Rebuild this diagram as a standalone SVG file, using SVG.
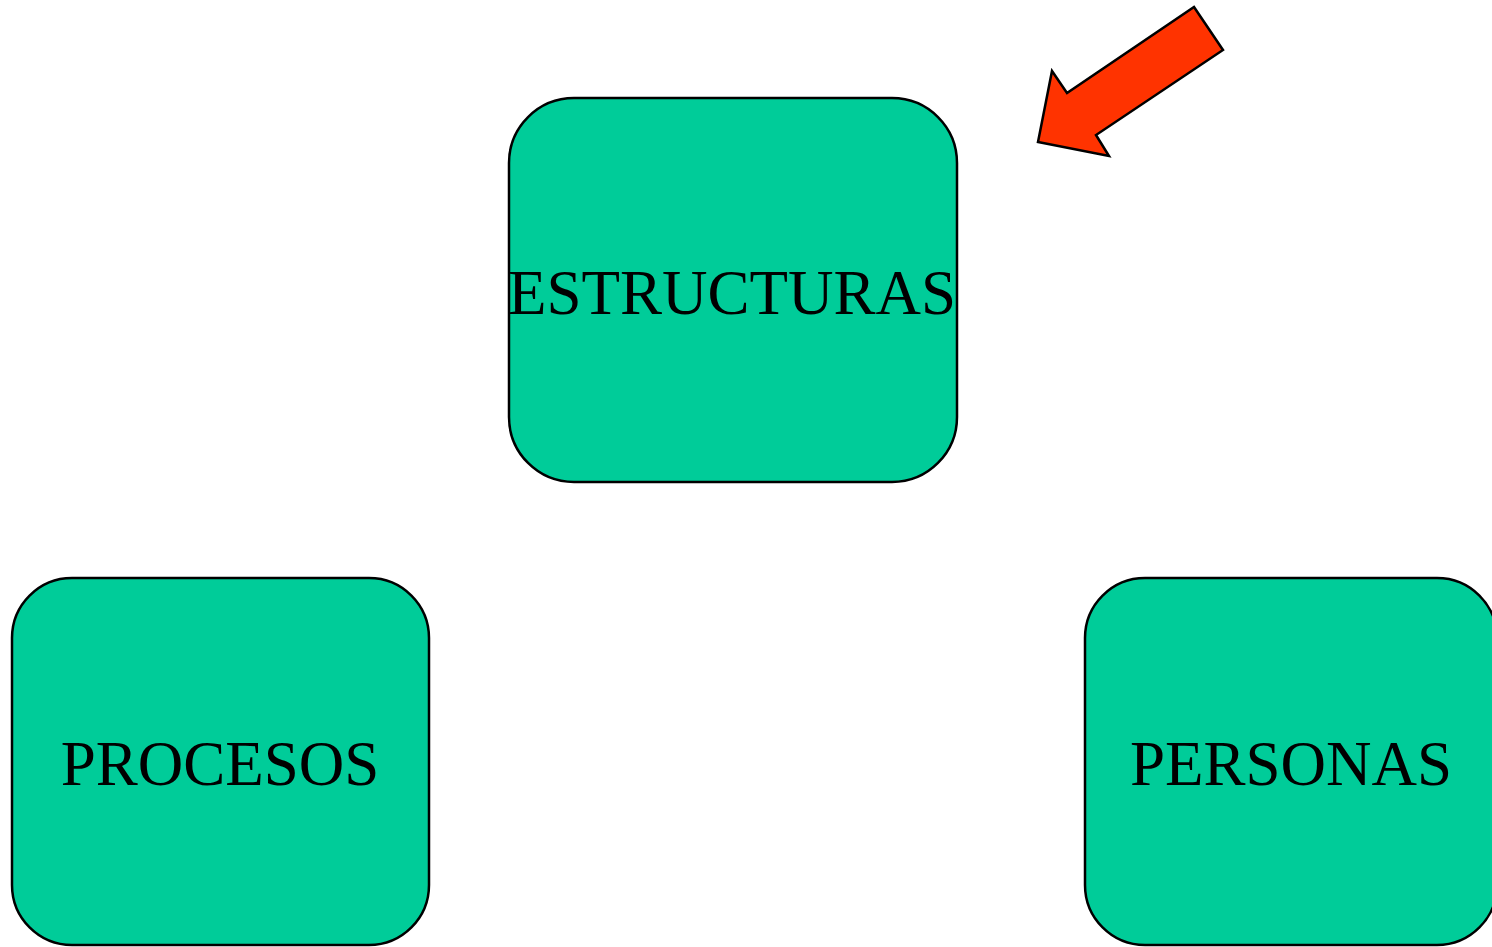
<svg xmlns="http://www.w3.org/2000/svg" width="1492" height="947" viewBox="0 0 1492 947">
<style>
.box{fill:#00CC99;stroke:#000;stroke-width:2.5}
.lbl{font-family:"Liberation Serif","Times New Roman",serif;font-size:63px;fill:#000;text-anchor:middle}
</style>
<rect x="0" y="0" width="1492" height="947" fill="#fff"/>
<g id="estructuras">
<rect class="box" x="509" y="98" width="448" height="384" rx="65" ry="65"/>
<text class="lbl" x="732" y="314">ESTRUCTURAS</text>
</g>
<g id="procesos">
<rect class="box" x="12" y="578" width="417" height="367" rx="60" ry="60"/>
<text class="lbl" x="220" y="785">PROCESOS</text>
</g>
<g id="personas">
<rect class="box" x="1085" y="578" width="412" height="367" rx="60" ry="60"/>
<text class="lbl" x="1291" y="785">PERSONAS</text>
</g>
<g id="connectors">
<polygon points="1194,7 1223,50 1096,135 1109,156 1038,142 1052,71 1067,93" fill="#FF3300" stroke="#000" stroke-width="2.5" stroke-linejoin="miter"/>
</g>
</svg>
